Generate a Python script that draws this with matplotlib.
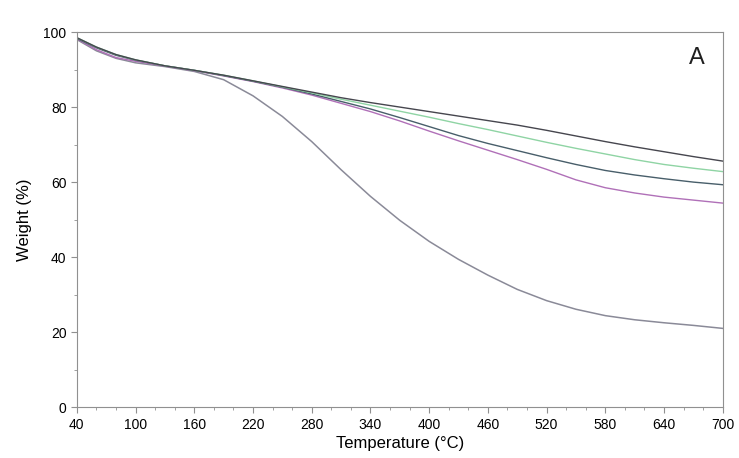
import numpy as np
import matplotlib.pyplot as plt
from matplotlib.ticker import MultipleLocator

plt.rcParams['font.family'] = ['Liberation Sans', 'DejaVu Sans']

temps = [40, 60, 80, 100, 130, 160, 190, 220, 250, 280, 310, 340, 370,
         400, 430, 460, 490, 520, 550, 580, 610, 640, 670, 700]

top = [98.5, 96, 94, 92.6, 91, 89.8, 88.5, 87, 85.5, 84, 82.5, 81.2, 80,
       78.8, 77.6, 76.4, 75.2, 73.8, 72.3, 70.8, 69.4, 68.1, 66.8, 65.6]
green = [98.5, 96, 94, 92.6, 91, 89.8, 88.5, 87, 85.4, 83.8, 82.1, 80.5, 78.9,
         77.3, 75.6, 74, 72.3, 70.6, 69, 67.5, 66, 64.7, 63.7, 62.8]
teal = [98.3, 95.8, 93.8, 92.5, 91, 89.8, 88.4, 86.9, 85.3, 83.5, 81.5, 79.5, 77.2,
        74.8, 72.4, 70.3, 68.4, 66.5, 64.7, 63.1, 61.9, 60.9, 60, 59.3]
pink = [98.2, 95.3, 93.2, 92.2, 90.9, 89.7, 88.3, 86.8, 85.1, 83.2, 81, 78.8, 76.3,
        73.6, 71.0, 68.5, 66, 63.4, 60.6, 58.5, 57.1, 56, 55.2, 54.4]
bottom = [98, 95, 93, 91.8, 90.8, 89.5, 87.3, 83, 77.5, 70.8, 63.3, 56.2, 49.8,
          44.2, 39.4, 35.2, 31.4, 28.4, 26.1, 24.4, 23.3, 22.5, 21.8, 21]

fig = plt.figure(figsize=(7.39, 4.58), dpi=100)
ax = fig.add_axes([0.104, 0.111, 0.874, 0.819])

ax.plot(temps, bottom, color='#8a8a98', lw=1.1)
ax.plot(temps, pink, color='#b070b8', lw=1.0)
ax.plot(temps, teal, color='#485e6a', lw=1.0)
ax.plot(temps, green, color='#8fd4a4', lw=1.0)
ax.plot(temps, top, color='#46464e', lw=1.0)

ax.set_xlim(40, 700)
ax.set_ylim(0, 100)
ax.set_xticks(np.arange(40, 701, 60))
ax.xaxis.set_minor_locator(MultipleLocator(20))
ax.set_yticks(np.arange(0, 101, 20))
ax.yaxis.set_minor_locator(MultipleLocator(10))
ax.tick_params(which='both', color='#909090', labelsize=10, direction='out')
ax.tick_params(which='major', length=4)
ax.tick_params(which='minor', length=2)
for s in ax.spines.values():
    s.set_color('#909090')

ax.set_xlabel('Temperature (°C)', fontsize=12, labelpad=3)
ax.set_ylabel('Weight (%)', fontsize=12, labelpad=8)
ax.text(0.96, 0.93, 'A', transform=ax.transAxes, fontsize=17,
        ha='center', va='center', color='#202020')

fig.savefig('out.png', dpi=100)
